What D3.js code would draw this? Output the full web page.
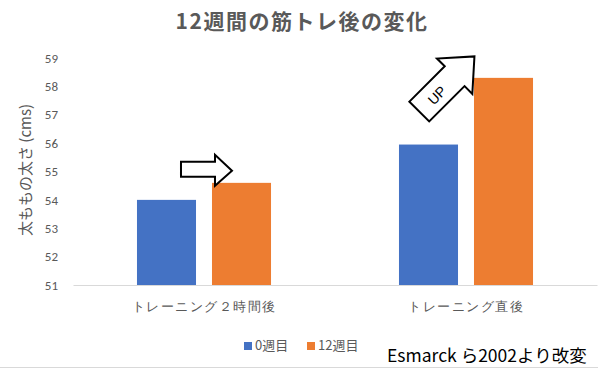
<!DOCTYPE html>
<html>
<head>
<meta charset="utf-8">
<script src="https://cdn.jsdelivr.net/npm/d3@7"></script>
<style>
  body { margin: 0; background: #fff; }
  svg { display: block; font-family: "Noto Sans CJK JP", "Noto Sans", sans-serif; }
</style>
</head>
<body>
<script>
// data
var categories = ["トレーニング２時間後", "トレーニング直後"];
var seriesNames = ["0週目", "12週目"];
var week0 = [54.0, 55.95];
var week12 = [54.6, 58.3];
var yTicks = [51, 52, 53, 54, 55, 56, 57, 58, 59];
var colors = ["#4472c4", "#ed7d31"];

var W = 598, H = 370;
var margin = {top: 58, right: 1, bottom: 85, left: 73},
    width = W - margin.left - margin.right,
    height = H - margin.top - margin.bottom;

var svg = d3.select("body").append("svg")
    .attr("width", W)
    .attr("height", H);

// bottom border line
svg.append("line")
    .attr("x1", 0).attr("x2", W)
    .attr("y1", 367.5).attr("y2", 367.5)
    .attr("stroke", "#d9d9d9");

var g = svg.append("g")
    .attr("transform", "translate(" + margin.left + "," + margin.top + ")");

var x0 = d3.scaleBand().domain(categories).range([0, width]);
var x1 = d3.scaleBand().domain(seriesNames).range([0, x0.bandwidth()])
    .paddingInner(0.213).paddingOuter(0.853);
var y = d3.scaleLinear().domain([51, 59]).range([height, 0]);

var rows = categories.map(function(c, i) {
  return {cat: c, values: [week0[i], week12[i]]};
});

g.selectAll(".grp")
  .data(rows)
  .enter().append("g")
    .attr("transform", function(d) { return "translate(" + x0(d.cat) + ",0)"; })
  .selectAll("rect")
  .data(function(d) { return d.values.map(function(v, j) { return {key: seriesNames[j], value: v, j: j}; }); })
  .enter().append("rect")
    .attr("x", function(d) { return x1(d.key); })
    .attr("y", function(d) { return y(d.value); })
    .attr("width", x1.bandwidth())
    .attr("height", function(d) { return height - y(d.value); })
    .attr("fill", function(d) { return colors[d.j]; });

// y axis
var yAxis = g.append("g")
    .call(d3.axisLeft(y).tickValues(yTicks).tickSize(0).tickPadding(15));
yAxis.select(".domain").remove();
yAxis.selectAll("text")
    .attr("fill", "#595959")
    .style("font-size", "13px")
    .style("font-family", "Carlito, 'Liberation Sans', 'Noto Sans', sans-serif");

// x axis
var xAxis = g.append("g")
    .attr("transform", "translate(0," + height + ")")
    .call(d3.axisBottom(x0).tickSize(0).tickPadding(17));
xAxis.select(".domain").attr("stroke", "#d9d9d9");
xAxis.selectAll("text")
    .attr("fill", "#595959")
    .style("font-size", "13px")
    .style("letter-spacing", "1.5px");

// title
svg.append("text")
    .attr("x", 302).attr("y", 29)
    .attr("text-anchor", "middle")
    .attr("fill", "#595959")
    .style("font-size", "21px")
    .style("font-weight", "bold")
    .style("letter-spacing", "1.5px")
    .text("12週間の筋トレ後の変化");

// y label
svg.append("text")
    .attr("transform", "translate(31,170) rotate(-90)")
    .attr("text-anchor", "middle")
    .attr("fill", "#595959")
    .style("font-size", "15px")
    .text("太ももの太さ (cms)");

// arrows (placed from data scales)
var a1x = margin.left + x0(categories[0]) + x1(seriesNames[1]);
var a1y = margin.top + y(week12[0]);
svg.append("path")
    .attr("d", "M" + (a1x - 31) + "," + (a1y - 21) +
               " h34 v-7 l17,16 l-17,15 v-9 h-34 z")
    .attr("fill", "#fff")
    .attr("stroke", "#000")
    .attr("stroke-width", 2);

var a2x = margin.left + x0(categories[1]) + x1(seriesNames[1]);
var a2y = margin.top + y(week12[1]);
var up = svg.append("g")
    .attr("transform", "translate(" + (a2x - 25) + "," + (a2y + 4) + ") rotate(-45)");
up.append("path")
    .attr("d", "M-42,-14 h50 v-11 l28,25 l-28,25 v-11 h-50 z")
    .attr("fill", "#fff")
    .attr("stroke", "#000")
    .attr("stroke-width", 2);
up.append("text")
    .attr("x", -18).attr("y", 6)
    .attr("text-anchor", "middle")
    .attr("fill", "#000")
    .style("font-size", "14px")
    .style("font-family", "'Liberation Sans', sans-serif")
    .text("UP");

// legend
var legend = svg.append("g")
    .selectAll("g")
    .data(seriesNames)
    .enter().append("g")
    .attr("transform", function(d, i) { return "translate(" + (244 + i * 63) + ",342)"; });
legend.append("rect")
    .attr("width", 8).attr("height", 8)
    .attr("fill", function(d, i) { return colors[i]; });
legend.append("text")
    .attr("x", 11).attr("y", 8)
    .attr("fill", "#595959")
    .style("font-size", "13px")
    .text(function(d) { return d; });

// source note
svg.append("text")
    .attr("x", 387).attr("y", 362)
    .attr("fill", "#000")
    .style("font-size", "17.5px")
    .text("Esmarck ら2002より改変");
</script>
</body>
</html>
